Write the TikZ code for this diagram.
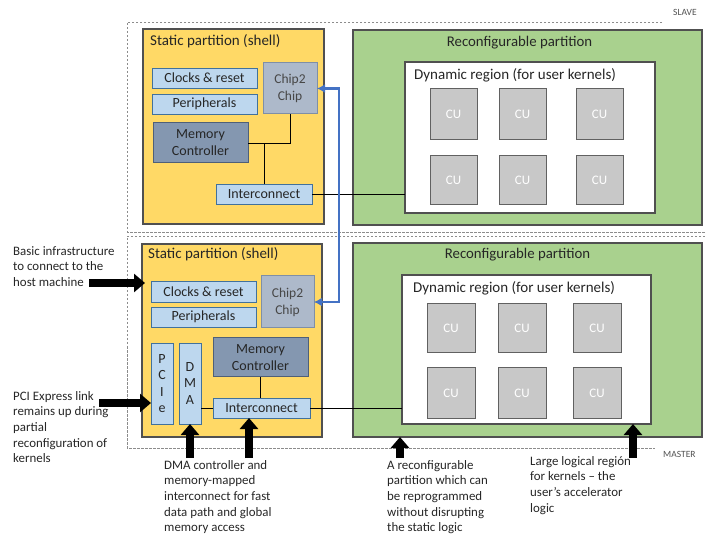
\documentclass[tikz,border=0pt]{standalone}
\usepackage{fontspec}
\setmainfont{Carlito}
\usetikzlibrary{arrows.meta}
\definecolor{shellY}{HTML}{FFD966}
\definecolor{recG}{HTML}{A9D18E}
\definecolor{lblue}{HTML}{BDD7EE}
\definecolor{lblueB}{HTML}{41719C}
\definecolor{ctwoc}{HTML}{ADB9CA}
\definecolor{ctwocB}{HTML}{7F8FA6}
\definecolor{memF}{HTML}{8497B0}
\definecolor{memB}{HTML}{4F6078}
\definecolor{cuF}{HTML}{C8C8C8}
\definecolor{blueA}{HTML}{4472C4}
\definecolor{txt}{HTML}{262626}
\definecolor{frameB}{HTML}{505050}
\begin{document}
\begin{tikzpicture}[x=1pt,y=-1pt,
  box/.style={rectangle,inner sep=0pt,outer sep=0pt,anchor=north west},
  shell/.style={box,fill=shellY,draw=frameB,line width=1.1pt},
  recon/.style={box,fill=recG,draw=frameB,line width=1.1pt},
  dynbox/.style={box,fill=white,draw=frameB,line width=1.1pt},
  lb/.style={box,fill=lblue,draw=lblueB,line width=0.8pt,text=txt,font=\fontsize{14}{16.5}\selectfont,align=center},
  ctc/.style={box,fill=ctwoc,draw=ctwocB,line width=1pt,text=txt!85,font=\fontsize{13.5}{17}\selectfont,align=center},
  memc/.style={box,fill=memF,draw=memB,line width=1pt,text=txt,font=\fontsize{14}{17}\selectfont,align=center},
  cu/.style={box,fill=cuF,draw=frameB!90,line width=1pt,text=white,font=\fontsize{13}{15}\selectfont},
  title/.style={anchor=base west,inner sep=0pt,text=txt,font=\fontsize{15}{17}\selectfont},
  ctitle/.style={anchor=base,inner sep=0pt,text=txt,font=\fontsize{14.8}{17}\selectfont},
  note/.style={anchor=north west,inner sep=0pt,align=left,text=txt,font=\fontsize{12.9}{15.7}\selectfont},
  frame/.style={draw=gray!90,line width=0.8pt,dash pattern=on 2.5pt off 1.5pt},
  bigarrow/.style={line width=7.5pt,-{Triangle[width=18pt,length=11pt]}},
  wire/.style={draw=black,line width=0.9pt},
  tag/.style={anchor=base west,inner sep=0pt,text=txt!80,font=\fontsize{9.5}{11}\selectfont}
]
\useasboundingbox (0,0) rectangle (705,540);

% dashed frames
\draw[frame] (662,22) -- (127,22) -- (127,232) -- (705,232);
\draw[frame] (705,236) -- (127,236) -- (127,448) -- (655,448);
\node[tag] (slaveT) at (673,16) {SLAVE};
\node[tag] (masterT) at (663,457) {MASTER};

% ===== SLAVE =====
\node[shell,minimum width=181pt,minimum height=195pt] (sy) at (143,29) {};
\node[title] (syT) at (150,46) {Static partition (shell)};
\node[recon,minimum width=349pt,minimum height=195pt] (sg) at (353,30) {};
\node[ctitle] (sgT) at (519.5,47) {Reconfigurable partition};
\node[dynbox,minimum width=250pt,minimum height=151pt] (sdyn) at (405,62) {};
\node[title] (sdynT) at (414,80) {Dynamic region (for user kernels)};
\foreach \i/\x in {1/430,2/499,3/576}{
  \node[cu,minimum width=47pt,minimum height=51pt] (scua\i) at (\x,89) {CU};
  \node[cu,minimum width=47pt,minimum height=49pt] (scub\i) at (\x,156) {CU};
}
\node[lb,minimum width=105pt,minimum height=20pt] (sclk) at (152,68) {Clocks \& reset};
\node[lb,minimum width=105pt,minimum height=20pt] (sper) at (152,94) {Peripherals};
\node[ctc,minimum width=54pt,minimum height=51pt] (sc2c) at (263,63) {Chip2\\Chip};
\node[memc,minimum width=95pt,minimum height=40pt] (smem) at (153,123) {Memory\\Controller};
\node[lb,minimum width=96pt,minimum height=20pt] (sic) at (216,184) {Interconnect};
\draw[wire] (sc2c.south) |- (smem.east);
\draw[wire] (sic.north) -- (sic.north |- smem.east);
\draw[wire] (sic.east) -- (sdyn.west |- sic.east);

% ===== MASTER =====
\node[shell,minimum width=180pt,minimum height=193pt] (my) at (142,244) {};
\node[title] (myT) at (148,259) {Static partition (shell)};
\node[recon,minimum width=349pt,minimum height=194pt] (mg) at (353,243) {};
\node[ctitle] (mgT) at (517.5,259) {Reconfigurable partition};
\node[dynbox,minimum width=249pt,minimum height=149pt] (mdyn) at (402,275) {};
\node[title] (mdynT) at (413,293) {Dynamic region (for user kernels)};
\foreach \i/\x in {1/427,2/498,3/573}{
  \node[cu,minimum width=48pt,minimum height=49pt] (mcua\i) at (\x,304) {CU};
  \node[cu,minimum width=48pt,minimum height=50pt] (mcub\i) at (\x,368) {CU};
}
\node[lb,minimum width=105pt,minimum height=21pt] (mclk) at (151,281) {Clocks \& reset};
\node[lb,minimum width=105pt,minimum height=20pt] (mper) at (151,307) {Peripherals};
\node[ctc,minimum width=53pt,minimum height=52pt] (mc2c) at (261,276) {Chip2\\Chip};
\node[lb,minimum width=22pt,minimum height=81pt] (mpcie) at (151,343) {P\\C\\I\\e};
\node[lb,minimum width=22pt,minimum height=81pt] (mdma) at (179,343) {D\\M\\A};
\node[memc,minimum width=95pt,minimum height=39pt] (mmem) at (213,338) {Memory\\Controller};
\node[lb,minimum width=97pt,minimum height=20pt] (mic) at (213,398) {Interconnect};
\draw[wire] (mmem.south) -- (mmem.south |- mic.north);
\draw[wire] (mdma.east |- mic.west) -- (mic.west);
\draw[wire] (mic.east) -- (mdyn.west |- mic.east);

% chip2chip link
\draw[blueA,line width=2.8pt,{Latex[length=8pt,width=9pt]}-{Latex[length=8pt,width=9pt]}]
  (sc2c.east) -- ++(22,0) |- (mc2c.east);

% thick arrows
\coordinate (tBasic) at (89,283);
\coordinate (tPci) at (99,403);
\coordinate (tDma) at (190,458);
\coordinate (tIc) at (249,458);
\coordinate (tRec) at (400,458);
\coordinate (tLarge) at (633,458);
\draw[bigarrow] (tBasic) -- ([xshift=3pt]my.west |- tBasic);
\draw[bigarrow] (tPci) -- (mpcie.west |- tPci);
\draw[bigarrow] (tDma) -- (mdma.south);
\draw[bigarrow] (tIc) -- (tIc |- mic.south);
\draw[bigarrow] (tRec) -- (tRec |- mg.south);
\draw[bigarrow] (tLarge) -- (tLarge |- mdyn.south);

% notes
\node[note] (nBasic) at (13,246) {Basic infrastructure\\to connect to the\\host machine};
\node[note] (nPci) at (13,391) {PCI Express link\\remains up during\\partial\\reconfiguration of\\kernels};
\node[note] (nDma) at (164,460) {DMA controller and\\memory-mapped\\interconnect for fast\\data path and global\\memory access};
\node[note] (nRec) at (387,460) {A reconfigurable\\partition which can\\be reprogrammed\\without disrupting\\the static logic};
\node[note] (nLarge) at (530,456) {Large logical región\\for kernels – the\\user’s accelerator\\logic};
\end{tikzpicture}
\end{document}
